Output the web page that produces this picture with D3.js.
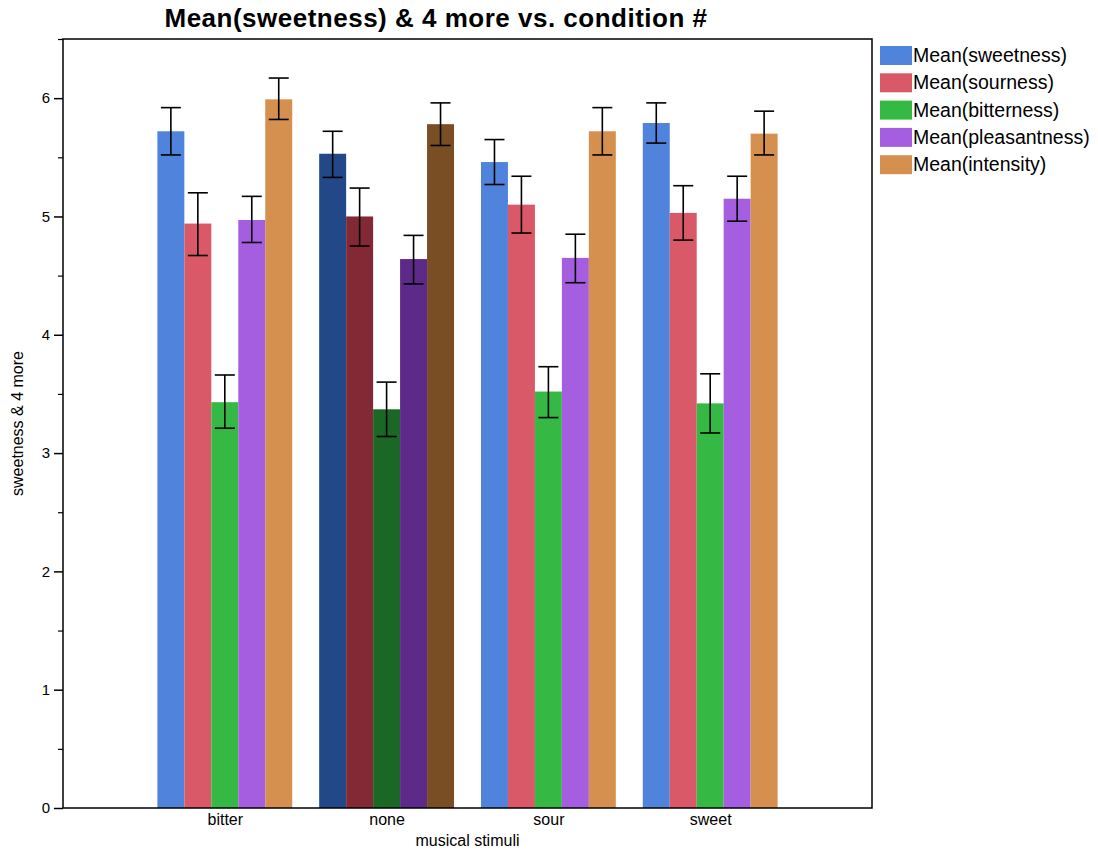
<!DOCTYPE html>
<html>
<head>
<meta charset="utf-8">
<script src="https://cdn.jsdelivr.net/npm/d3@7"></script>
<style>
  body { margin: 0; background: #fff; }
  svg text { font-family: "Liberation Sans", Arial, Helvetica, sans-serif; }
</style>
</head>
<body>
<div id="chart"></div>
<script>
// Data
const categories = ["bitter", "none", "sour", "sweet"];
const seriesNames = ["Mean(sweetness)", "Mean(sourness)", "Mean(bitterness)", "Mean(pleasantness)", "Mean(intensity)"];

// mean values per series, in category order
const sweetness = [5.72, 5.53, 5.46, 5.79];
const sourness = [4.94, 5.00, 5.10, 5.03];
const bitterness = [3.43, 3.37, 3.52, 3.42];
const pleasantness = [4.97, 4.64, 4.65, 5.15];
const intensity = [5.99, 5.78, 5.72, 5.70];

// error bar low / high per series
const sweetnessLo = [5.52, 5.33, 5.27, 5.62];
const sweetnessHi = [5.92, 5.72, 5.65, 5.96];
const sournessLo = [4.67, 4.75, 4.86, 4.80];
const sournessHi = [5.20, 5.24, 5.34, 5.26];
const bitternessLo = [3.21, 3.14, 3.30, 3.17];
const bitternessHi = [3.66, 3.60, 3.73, 3.67];
const pleasantnessLo = [4.78, 4.43, 4.44, 4.96];
const pleasantnessHi = [5.17, 4.84, 4.85, 5.34];
const intensityLo = [5.82, 5.60, 5.52, 5.52];
const intensityHi = [6.17, 5.96, 5.92, 5.89];

const yTicks = [0, 1, 2, 3, 4, 5, 6];
const yMinorTicks = [0.5, 1.5, 2.5, 3.5, 4.5, 5.5, 6.5];

const seriesValues = [sweetness, sourness, bitterness, pleasantness, intensity];
const seriesLo = [sweetnessLo, sournessLo, bitternessLo, pleasantnessLo, intensityLo];
const seriesHi = [sweetnessHi, sournessHi, bitternessHi, pleasantnessHi, intensityHi];

const colors = ["#5084dc", "#da5969", "#35b944", "#a55ee0", "#d5904f"];
// the "none" group is drawn in darker shades
const darkColors = ["#224887", "#822935", "#1b6826", "#5e2a8a", "#7a4e25"];

const width = 1098, height = 853;
const margin = { top: 39, right: 226, bottom: 45, left: 63 };

const svg = d3.select("#chart").append("svg")
  .attr("width", width)
  .attr("height", height);

const x = d3.scalePoint()
  .domain(categories)
  .range([margin.left, width - margin.right])
  .padding(1);

const barW = x.step() / 6;
const xSeries = d3.scaleBand()
  .domain(seriesNames)
  .range([-2.5 * barW, 2.5 * barW]);

const y = d3.scaleLinear()
  .domain([0, 6.5])
  .range([height - margin.bottom, margin.top]);

// bars
const rows = [];
categories.forEach((c, ci) => {
  seriesNames.forEach((s, si) => {
    rows.push({ c, ci, s, si, v: seriesValues[si][ci], lo: seriesLo[si][ci], hi: seriesHi[si][ci] });
  });
});

svg.append("g")
  .selectAll("rect")
  .data(rows)
  .join("rect")
  .attr("x", d => x(d.c) + xSeries(d.s))
  .attr("y", d => y(d.v))
  .attr("width", xSeries.bandwidth())
  .attr("height", d => y(0) - y(d.v))
  .attr("fill", d => d.c === "none" ? darkColors[d.si] : colors[d.si]);

// error bars
const capW = 10;
const err = svg.append("g")
  .attr("stroke", "#000")
  .attr("stroke-width", 1.6);
rows.forEach(d => {
  const cx = x(d.c) + xSeries(d.s) + xSeries.bandwidth() / 2;
  err.append("line").attr("x1", cx).attr("x2", cx).attr("y1", y(d.lo)).attr("y2", y(d.hi));
  err.append("line").attr("x1", cx - capW).attr("x2", cx + capW).attr("y1", y(d.lo)).attr("y2", y(d.lo));
  err.append("line").attr("x1", cx - capW).attr("x2", cx + capW).attr("y1", y(d.hi)).attr("y2", y(d.hi));
});

// frame
svg.append("rect")
  .attr("x", margin.left)
  .attr("y", margin.top)
  .attr("width", width - margin.left - margin.right)
  .attr("height", height - margin.top - margin.bottom)
  .attr("fill", "none")
  .attr("stroke", "#000")
  .attr("stroke-width", 1.5);

// y axis
svg.append("g")
  .attr("transform", `translate(${margin.left},0)`)
  .call(d3.axisLeft(y).tickValues(yTicks).tickSize(9).tickPadding(4).tickFormat(d3.format("d")))
  .call(g => g.select(".domain").remove())
  .call(g => g.selectAll(".tick line").attr("stroke", "#000").attr("stroke-width", 1.5))
  .call(g => g.selectAll(".tick text").attr("font-size", 15).attr("fill", "#000")
    .style("font-family", "'Liberation Sans', Arial, sans-serif"));

svg.append("g")
  .attr("transform", `translate(${margin.left},0)`)
  .call(d3.axisLeft(y).tickValues(yMinorTicks).tickSize(5).tickFormat(""))
  .call(g => g.select(".domain").remove())
  .call(g => g.selectAll(".tick line").attr("stroke", "#000").attr("stroke-width", 1.2));

// x axis labels
svg.append("g")
  .attr("transform", `translate(0,${height - margin.bottom})`)
  .call(d3.axisBottom(x).tickSize(0).tickPadding(6))
  .call(g => g.select(".domain").remove())
  .call(g => g.selectAll(".tick text").attr("font-size", 16).attr("fill", "#000")
    .style("font-family", "'Liberation Sans', Arial, sans-serif"));

// axis titles
svg.append("text")
  .attr("x", (margin.left + width - margin.right) / 2)
  .attr("y", 846)
  .attr("text-anchor", "middle")
  .attr("font-size", 16)
  .text("musical stimuli");

svg.append("text")
  .attr("transform", `translate(23,${(margin.top + height - margin.bottom) / 2}) rotate(-90)`)
  .attr("text-anchor", "middle")
  .attr("font-size", 16)
  .text("sweetness & 4 more");

// title
svg.append("text")
  .attr("x", 436)
  .attr("y", 27)
  .attr("text-anchor", "middle")
  .attr("font-size", 26)
  .attr("font-weight", "bold")
  .attr("letter-spacing", 0.5)
  .text("Mean(sweetness) & 4 more vs. condition #");

// legend
const legend = svg.append("g").attr("transform", "translate(880,46)");
seriesNames.forEach((s, i) => {
  const row = legend.append("g").attr("transform", `translate(0,${i * 27.3})`);
  row.append("rect").attr("width", 32).attr("height", 19).attr("fill", colors[i]);
  row.append("text")
    .attr("x", 33)
    .attr("y", 16)
    .attr("font-size", 19.5)
    .attr("fill", "#000")
    .text(s);
});
</script>
</body>
</html>
